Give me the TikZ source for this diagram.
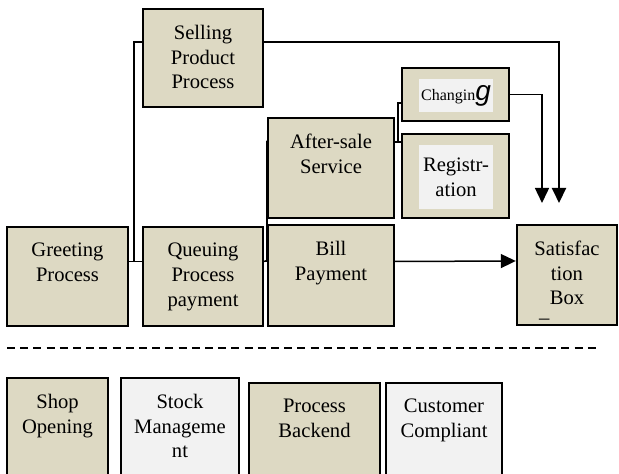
\documentclass[tikz,border=0pt]{standalone}
\usepackage{fontspec}
\setmainfont{Liberation Serif}
\newfontfamily\gfont{Liberation Sans}
\usetikzlibrary{positioning}
\usetikzlibrary{calc}
\usetikzlibrary{arrows.meta}
\definecolor{boxtan}{HTML}{DDD9C3}
\definecolor{boxgrey}{HTML}{F2F2F2}

\begin{document}
\begin{tikzpicture}[x=0.5pt, y=-0.5pt,
    proc/.style={draw, line width=1.2pt, fill=boxtan, inner sep=0pt},
    plain/.style={proc, fill=boxgrey},
    txt/.style={anchor=north, yshift=-8.5pt, align=center, inner sep=0pt, font=\fontsize{10.3}{12.3}\selectfont},
    conn/.style={line width=0.75pt},
    arr/.style={conn, -{Triangle[width=7pt,length=7.5pt]}}]

    \useasboundingbox (0,0) rectangle (619,474);
    \clip (0,0) rectangle (619,474);

    % Front row
    \node[proc, minimum width=60.5pt, minimum height=49.5pt, label={[txt]north:Greeting\\Process}] (greet) at (67.5,276.5) {};
    \node[proc, minimum width=60pt, minimum height=49.5pt, label={[txt]north:Queuing\\Process\\payment}] (queue) at (203,276.5) {};
    \node[proc, minimum width=63pt, minimum height=50.5pt, label={[txt]north:Bill\\Payment}] (bill) at (331,275.5) {};
    \node[proc, minimum width=50pt, minimum height=50pt, label={[txt]north:Satisfac\\tion\\Box\\[-6pt]\_\hspace*{2.2em}}] (sat) at (567,275) {};

    % Upper row
    \node[proc, minimum width=60pt, minimum height=49pt, label={[txt]north:Selling\\Product\\Process}] (sell) at (203,58) {};
    \node[proc, minimum width=63pt, minimum height=50pt, label={[txt]north:After-sale\\Service}] (after) at (331,168) {};
    \node[proc, minimum width=53.5pt, minimum height=26.5pt] (chg) at (455.5,94.5) {};
    \node[fill=boxgrey, minimum width=37pt, minimum height=16.5pt, inner sep=0pt] (chgtxt) at (456,95.5)
        {{\fontsize{8}{9}\selectfont Changin}{\gfont\itshape\fontsize{14}{14}\selectfont g}};
    \node[proc, minimum width=53.5pt, minimum height=42pt] (reg) at (455.5,176) {};
    \node[fill=boxgrey, minimum width=37pt, minimum height=32pt, inner sep=0pt, align=center,
        font=\fontsize{10.3}{12.3}\selectfont] (regtxt) at (456,177) {Registr-\\ation};

    % Connectors
    \draw[conn] ([yshift=7.5pt]greet.east) -- ([yshift=7.5pt]queue.west);
    \draw[conn] ([yshift=7.5pt]greet.east) -- ++(2.5pt,0) |- ([yshift=8pt]sell.west);
    \draw[conn] ([yshift=7.5pt]queue.east) -- ([yshift=7.5pt]bill.west);
    \draw[conn] ([yshift=7.5pt]queue.east) -- ++(1.5pt,0) |- ([yshift=13.5pt]after.west);
    \draw[conn] ([yshift=13pt]after.east) -- ([yshift=13pt]after.east -| reg.west);
    \draw[conn] ([yshift=13pt]after.east) -- ++(1.5pt,0) |- ([yshift=-4.25pt]chg.west);

    % Arrows into the box
    \coordinate (tipA) at (542,203);
    \coordinate (tipB) at (559,203);
    \draw[arr] (chg.east) -| (tipA);
    \draw[arr, line width=1pt] ([yshift=8pt]sell.east) -| (tipB);
    \draw[arr] ([yshift=7pt]bill.east) -- ([yshift=7pt]sat.west);

    % Separator
    \coordinate (sepL) at (7,348);
    \coordinate (sepR) at (600,348);
    \draw[line width=0.6pt, dash pattern=on 4pt off 2.6pt] (sepL) -- (sepR);

    % Bottom row
    \node[proc, minimum width=50.5pt, minimum height=60pt, label={[txt]north:Shop\\Opening}] (shop) at (57.5,438) {};
    \node[plain, minimum width=59pt, minimum height=60pt, label={[txt]north:Stock\\Manageme\\nt}] (stock) at (180,438) {};
    \node[proc, minimum width=65.5pt, minimum height=60pt, label={[txt]north:Process\\Backend}] (backend) at (314.5,443) {};
    \node[plain, minimum width=58pt, minimum height=60pt, label={[txt]north:Customer\\Compliant}] (cust) at (444,443) {};

  \end{tikzpicture}
\end{document}
